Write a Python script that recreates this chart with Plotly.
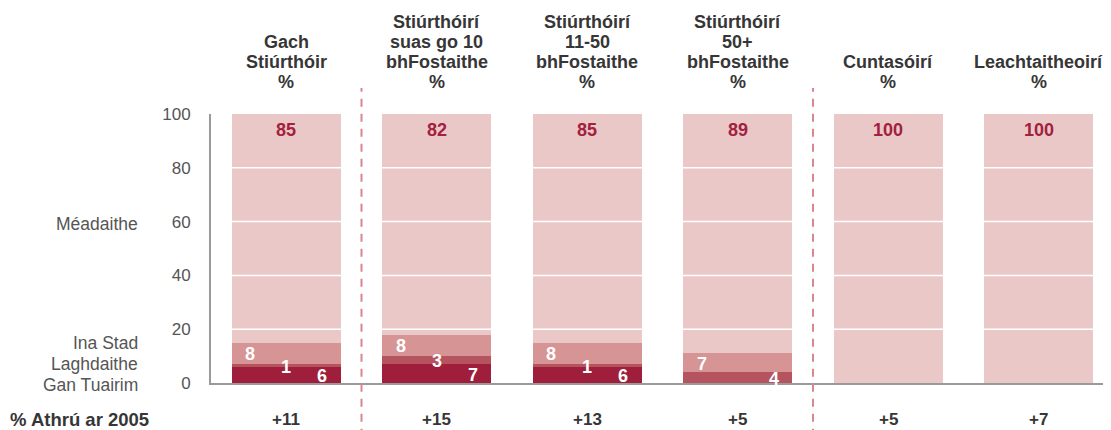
import plotly.graph_objects as go

categories = ["Gach<br>Stiúrthóir<br>%", "Stiúrthóirí<br>suas go 10<br>bhFostaithe<br>%",
              "Stiúrthóirí<br>11-50<br>bhFostaithe<br>%", "Stiúrthóirí<br>50+<br>bhFostaithe<br>%",
              "Cuntasóirí<br>%", "Leachtaitheoirí<br>%"]
series_names = ["Gan Tuairim", "Laghdaithe", "Ina Stad", "Méadaithe"]
gan_tuairim = [6, 7, 6, 0, 0, 0]
laghdaithe = [1, 3, 1, 4, 0, 0]
ina_stad = [8, 8, 8, 7, 0, 0]
meadaithe = [85, 82, 85, 89, 100, 100]
change_2005 = ["+11", "+15", "+13", "+5", "+5", "+7"]
y_ticks = [0, 20, 40, 60, 80, 100]

colors = ["#9E1E3B", "#B5535E", "#D69494", "#EAC8C7"]
FONT = "Liberation Sans"
DARK = "#363636"
x = list(range(len(categories)))

fig = go.Figure()
for name, vals, col in zip(series_names, [gan_tuairim, laghdaithe, ina_stad, meadaithe], colors):
    fig.add_trace(go.Bar(x=x, y=vals, name=name, marker=dict(color=col, line=dict(width=0)),
                         hoverinfo="y+name"))

ann = []
# Top values (Méadaithe)
for i, v in enumerate(meadaithe):
    ann.append(dict(x=i, y=100, xref="x", yref="y", text=f"<b>{v}</b>", showarrow=False,
                    yanchor="top", yshift=-4, font=dict(family=FONT, size=18, color="#A3203F")))
# In-bar labels for lower segments: bottom-most at right, top at left, middle centred
for i in x:
    base = 0
    segs = []
    for v in [gan_tuairim[i], laghdaithe[i], ina_stad[i]]:
        if v > 0:
            segs.append((v, base + v / 2))
        base += v
    offsets = {3: [36, 0, -36], 2: [36, -36], 1: [0]}.get(len(segs), [])
    for (v, mid), dx in zip(segs, offsets):
        ann.append(dict(x=i, y=mid, xref="x", yref="y", text=f"<b>{v}</b>",
                        showarrow=False, xshift=dx, yshift=-1,
                        font=dict(family=FONT, size=18, color="white")))
# Headers, one annotation per line, bottom-aligned
for i, c in enumerate(categories):
    lines = c.split("<br>")
    n = len(lines)
    for j, line in enumerate(lines):
        ann.append(dict(x=i, y=1.119, xref="x", yref="paper", text=f"<b>{line}</b>", showarrow=False,
                        yanchor="middle", yshift=20 * (n - 1 - j),
                        font=dict(family=FONT, size=18, color=DARK)))
# Change row
for i, c in enumerate(change_2005):
    ann.append(dict(x=i, y=-0.1375, xref="x", yref="paper", text=f"<b>{c}</b>", showarrow=False,
                    yanchor="middle", font=dict(family=FONT, size=17, color=DARK)))
ann.append(dict(x=-0.2256, y=-0.1375, xref="paper", yref="paper", text="<b>% Athrú ar 2005</b>",
                showarrow=False, xanchor="left", yanchor="middle",
                font=dict(family=FONT, size=18.5, color=DARK)))
# Row labels
row_labels = [("Méadaithe", 0.59), ("Ina Stad", 0.15), ("Laghdaithe", 0.072), ("Gan Tuairim", -0.006)]
for t, yv in row_labels:
    ann.append(dict(x=-0.0789, y=yv, xref="paper", yref="paper", text=t, showarrow=False,
                    xanchor="right", yanchor="middle", font=dict(family=FONT, size=17.5, color="#555555")))

shapes = []
for yv in y_ticks[1:-1]:
    shapes.append(dict(type="line", xref="paper", yref="y", x0=0, x1=1, y0=yv, y1=yv,
                       line=dict(color="white", width=1.5), layer="above"))
for xv in [0.5, 3.5]:
    shapes.append(dict(type="line", xref="x", yref="paper", x0=xv, x1=xv, y0=-0.2, y1=1.097,
                       line=dict(color="#D9868F", width=2, dash="8px,7px"), layer="above"))

fig.update_layout(
    barmode="stack", bargap=0.275, showlegend=False,
    width=1103, height=422, margin=dict(l=203, r=0, t=106, b=47),
    paper_bgcolor="white", plot_bgcolor="white",
    xaxis=dict(range=[-0.5, 5.48], showticklabels=False, showgrid=False, zeroline=False,
               showline=True, linecolor="#9A9A9A", linewidth=2, fixedrange=True),
    yaxis=dict(range=[0, 100], tickvals=y_ticks, showgrid=False, zeroline=False,
               showline=True, linecolor="#9A9A9A", linewidth=2, ticklabelstandoff=15,
               tickfont=dict(family=FONT, size=17, color="#555555"), fixedrange=True),
    annotations=ann, shapes=shapes,
)
fig.write_html("out.html")
